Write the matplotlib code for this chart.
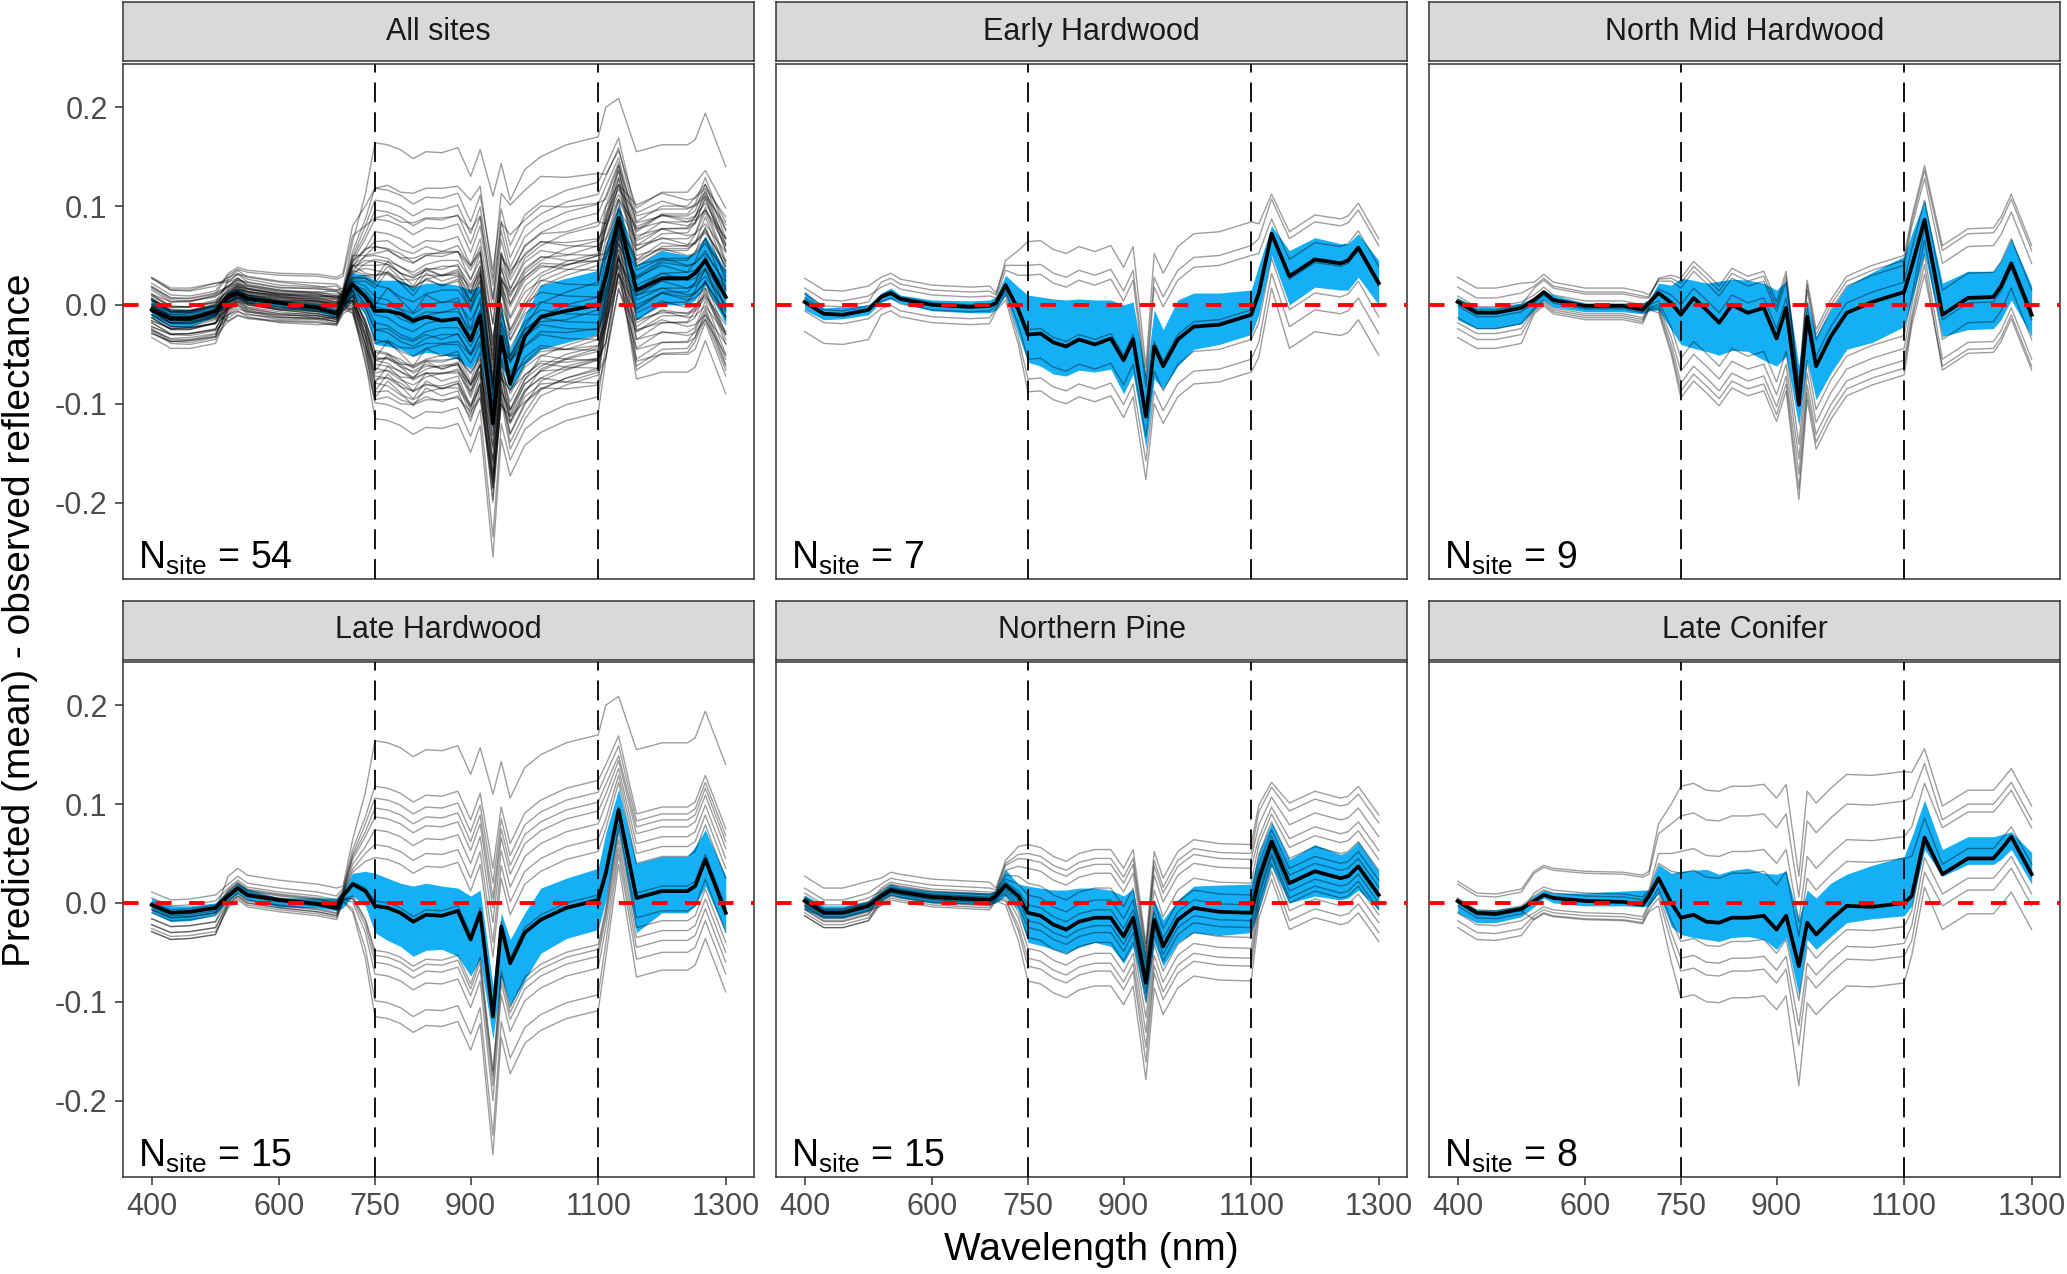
import numpy as np
import matplotlib
matplotlib.use("Agg")
import matplotlib.pyplot as plt

plt.rcParams['font.family'] = ['Liberation Sans', 'DejaVu Sans']
plt.rcParams['mathtext.fontset'] = 'custom'
plt.rcParams['mathtext.rm'] = 'Liberation Sans'
plt.rcParams['mathtext.it'] = 'Liberation Sans:italic'
plt.rcParams['axes.unicode_minus'] = False

wl = np.array([400, 430, 460, 500, 520, 535, 550, 600, 660, 690, 700, 715, 735,
               750, 770, 790, 810, 830, 855, 880, 900, 915, 935, 948, 962, 985,
               1010, 1050, 1100, 1112, 1132, 1160, 1200, 1240, 1252, 1268, 1300])

# spectral region of each wavelength -> index into a site's offsets
# 0 blue, 1 green/red, 2 700, 3 715, 4 735, 5 nir, 6 water dip, 7 1112, 8 1132, 9 swir
region = np.array([0, 0, 0, 0, 1, 1, 1, 1, 1, 1, 2, 3, 4,
                   5, 5, 5, 5, 5, 5, 5, 5, 5, 6, 5, 5, 5,
                   5, 5, 5, 7, 8, 9, 9, 9, 9, 9, 9])

panel_names = ["All sites", "Early Hardwood", "North Mid Hardwood",
               "Late Hardwood", "Northern Pine", "Late Conifer"]

# all values below in thousandths of reflectance
mean_all = [-5, -14, -14, -6, 8, 12, 6, 2, -3, -9, 4, 21, 8,
            -6, -6, -9, -16, -12, -16, -14, -36, -11, -120, -32, -80, -32,
            -12, -6, 0, 28, 88, 15, 27, 27, 32, 45, 8]
hi_all = [5, -5, -5, 0, 13, 17, 10, 5, 1, -4, 12, 33, 30,
          25, 25, 25, 18, 22, 22, 20, 15, 20, -80, 0, -45, -10,
          20, 27, 35, 60, 103, 40, 55, 50, 52, 70, 35]
lo_all = [-12, -22, -22, -12, 3, 7, 2, -2, -7, -13, -4, 8, -10,
          -40, -42, -45, -52, -48, -50, -55, -65, -50, -127, -60, -86, -60,
          -45, -38, -30, 0, 70, -15, 0, 0, 5, 20, -19]

mean_eh = [3, -9, -10, -5, 8, 12, 6, 0, -2, -1, 2, 20, -5,
           -30, -29, -38, -42, -35, -40, -34, -56, -35, -113, -42, -62, -35,
           -22, -20, -10, 12, 72, 29, 46, 42, 45, 58, 22]
hi_eh = [14, -3, -2, 0, 12, 17, 10, 5, 4, 5, 8, 30, 18,
         10, 8, 6, 5, 6, 5, 5, 0, 3, -72, -5, -25, 5,
         12, 12, 15, 40, 80, 55, 68, 62, 62, 72, 45]
lo_eh = [-5, -15, -14, -10, 3, 6, 2, -6, -8, -8, -5, 10, -30,
         -58, -62, -70, -72, -66, -68, -65, -90, -70, -145, -75, -85, -62,
         -45, -40, -30, -10, 50, 0, 18, 15, 15, 28, 0]

mean_nmh = [3, -8, -8, -3, 5, 13, 5, -1, -1, -5, 2, 12, 2,
            -10, 7, -5, -18, 0, -8, -3, -34, -3, -101, -12, -62, -32,
            -8, 3, 13, 39, 86, -10, 7, 8, 19, 42, -10]
hi_nmh = [7, -2, -2, 2, 8, 15, 10, 2, 2, 2, 5, 22, 20,
          27, 25, 22, 24, 26, 25, 22, 15, 24, -62, 5, -32, -5,
          19, 33, 49, 72, 106, 22, 34, 34, 45, 67, 19]
lo_nmh = [-15, -24, -24, -19, -5, 5, -2, -7, -7, -9, -6, -5, -25,
          -40, -44, -47, -51, -46, -47, -56, -62, -52, -123, -56, -96, -69,
          -45, -38, -22, 5, 52, -32, -25, -24, -15, 5, -32]

mean_lh = [-2, -10, -9, -5, 7, 15, 8, 3, -1, -5, 7, 19, 12,
           -3, -5, -10, -19, -12, -13, -8, -37, -10, -115, -24, -61, -30,
           -17, -5, 3, 30, 94, 5, 12, 12, 17, 44, -10]
hi_lh = [5, -3, -3, 0, 12, 20, 14, 5, 5, 5, 12, 30, 32,
         30, 25, 20, 17, 20, 17, 15, 7, 13, -84, -10, -37, -10,
         15, 25, 35, 71, 115, 40, 47, 47, 57, 74, 27]
lo_lh = [-10, -19, -18, -12, 2, 10, 3, -4, -5, -8, -5, 7, -3,
         -30, -38, -44, -54, -48, -47, -54, -74, -57, -138, -74, -104, -78,
         -51, -36, -27, 3, 74, -30, -10, -10, -3, 17, -30]

mean_np = [2, -10, -10, -3, 7, 13, 11, 6, 4, 3, 7, 18, 7,
           -10, -13, -22, -27, -19, -15, -15, -34, -15, -81, -17, -44, -17,
           -5, -9, -10, 24, 62, 20, 32, 25, 27, 37, 8]
hi_np = [8, -3, -3, 2, 12, 19, 16, 12, 11, 10, 13, 34, 19,
         17, 15, 13, 13, 15, 15, 13, 7, 14, -54, 3, -17, 3,
         17, 18, 19, 51, 81, 44, 59, 49, 52, 62, 32]
lo_np = [-7, -15, -15, -8, 2, 8, 5, 0, -1, -2, 0, 7, -7,
         -40, -43, -47, -51, -45, -40, -44, -61, -44, -101, -40, -64, -40,
         -30, -33, -30, -7, 37, 0, 7, 3, 5, 13, -7]

mean_lc = [2, -10, -11, -6, 2, 8, 5, 2, 1, -2, 7, 25, 0,
           -15, -12, -19, -20, -15, -15, -13, -27, -13, -64, -20, -32, -17,
           -3, -4, 0, 7, 66, 29, 45, 45, 54, 67, 29]
hi_lc = [3, -7, -7, -3, 7, 13, 10, 10, 12, 13, 13, 39, 30,
         32, 33, 34, 29, 33, 35, 30, 29, 32, -17, 13, 5, 20,
         29, 38, 47, 67, 104, 54, 67, 67, 69, 72, 51]
lo_lc = [-10, -20, -20, -14, -4, 5, 0, -3, -3, -4, -3, 10, -24,
         -32, -35, -37, -39, -35, -34, -37, -47, -35, -94, -37, -47, -34,
         -20, -16, -13, -3, 54, 27, 39, 39, 44, 54, 19]

# each site: offset from its group mean per region
# [blue, green, 700, 715, 735, nir, dip, 1112, 1132, swir]
sites_eh = [
    [8, 15, 8, 25, 60, 94, 50, 70, 40, 45],
    [24, 20, 10, 20, 45, 70, 40, 55, 35, 38],
    [14, 10, 5, 15, 35, 60, 30, 40, 15, 17],
    [-1, 2, 0, 2, 3, 5, 3, 2, -2, -3],
    [4, -5, -3, -6, -15, -25, -20, -30, -25, -34],
    [-9, -12, -6, -10, -28, -45, -45, -50, -40, -51],
    [-30, -18, -8, -15, -35, -58, -64, -65, -55, -73],
]
sites_nmh = [
    [3, 12, 5, 15, 28, 37, 20, 50, 55, 70],
    [15, 14, 6, 14, 25, 32, 18, 45, 50, 65],
    [25, 18, 8, 12, 22, 27, 15, 40, 42, 52],
    [6, 5, 2, 4, 8, 10, 8, 18, 20, 25],
    [-4, -3, -2, -8, -25, -44, -40, -30, -8, -5],
    [-16, -8, -4, -12, -35, -57, -55, -40, -20, -25],
    [-21, -10, -5, -15, -42, -69, -70, -50, -35, -45],
    [-27, -12, -6, -17, -48, -77, -85, -55, -45, -56],
    [-36, -14, -7, -20, -52, -84, -96, -60, -55, -52],
]
sites_lh = [
    [-3, 20, 10, 45, 100, 167, 225, 170, 115, 150],
    [13, 12, 8, 35, 75, 121, 150, 110, 75, 85],
    [7, 8, 6, 30, 68, 109, 135, 100, 65, 78],
    [-5, 5, 4, 28, 60, 99, 120, 90, 55, 72],
    [0, 6, 4, 25, 55, 90, 110, 80, 50, 65],
    [-14, 2, 3, 20, 45, 77, 95, 70, 42, 55],
    [3, 4, 3, 15, 38, 62, 75, 55, 35, 45],
    [-8, 0, 2, 12, 30, 49, 60, 45, 28, 35],
    [-5, -2, 0, 2, 3, 5, 5, 5, 3, 5],
    [-20, -6, -3, -12, -28, -45, -55, -35, -15, -20],
    [-27, -8, -4, -14, -30, -50, -60, -40, -22, -30],
    [-14, -5, -3, -15, -35, -57, -70, -45, -30, -40],
    [-20, -8, -4, -18, -42, -69, -85, -55, -38, -50],
    [-27, -10, -5, -25, -58, -96, -120, -70, -45, -62],
    [-24, -12, -6, -28, -68, -112, -140, -85, -55, -80],
]
sites_np = [
    [25, 18, 8, 25, 50, 69, 40, 75, 60, 81],
    [13, 12, 6, 22, 42, 60, 35, 68, 55, 73],
    [3, 8, 4, 20, 38, 54, 30, 55, 45, 59],
    [-2, 6, 3, 15, 30, 45, 25, 42, 35, 45],
    [8, 5, 3, 10, 20, 30, 18, 35, 28, 36],
    [-9, 3, 2, 6, 12, 18, 10, 25, 20, 25],
    [4, 2, 1, 3, 5, 8, 5, 15, 12, 15],
    [-4, 0, 0, 0, 0, 0, 0, 8, 6, 8],
    [2, -1, 0, -3, -5, -8, -10, 0, 0, 0],
    [-6, -2, -1, -5, -10, -15, -20, -8, -6, -8],
    [-15, -3, -1, -8, -16, -25, -35, -14, -12, -15],
    [-8, -5, -2, -10, -22, -36, -50, -18, -15, -20],
    [-12, -6, -3, -14, -30, -46, -65, -25, -22, -28],
    [-15, -8, -4, -16, -35, -54, -80, -32, -30, -38],
    [-5, -10, -5, -20, -45, -69, -98, -40, -38, -47],
]
sites_lc = [
    [20, 30, 25, 55, 100, 133, 91, 125, 90, 69],
    [17, 28, 22, 45, 80, 103, 70, 100, 75, 55],
    [-5, 8, 6, 25, 50, 67, 45, 70, 55, 47],
    [3, 5, 4, 15, 32, 45, 30, 40, 20, 10],
    [-12, -12, -8, -10, -18, -24, -35, -15, -5, 0],
    [-20, -15, -10, -15, -30, -41, -60, -30, -20, -20],
    [-27, -18, -14, -20, -40, -54, -80, -45, -35, -32],
    [-2, -19, -16, -28, -60, -81, -121, -60, -50, -56],
]

x_ticks = [400, 600, 750, 900, 1100, 1300]
y_ticks = [-0.2, -0.1, 0.0, 0.1, 0.2]
y_ticklabels = ["-0.2", "-0.1", "0.0", "0.1", "0.2"]
cutoffs = [750, 1100]


def site_curves(mean, sites):
    m = np.array(mean)
    return [(m + np.array(s)[region]) / 1000 for s in sites]


groups = [(mean_eh, hi_eh, lo_eh, sites_eh),
          (mean_nmh, hi_nmh, lo_nmh, sites_nmh),
          (mean_lh, hi_lh, lo_lh, sites_lh),
          (mean_np, hi_np, lo_np, sites_np),
          (mean_lc, hi_lc, lo_lc, sites_lc)]

panels = []
all_lines = []
for g in groups:
    all_lines += site_curves(g[0], g[3])
panels.append((mean_all, hi_all, lo_all, all_lines))
for g in groups:
    panels.append((g[0], g[1], g[2], site_curves(g[0], g[3])))

fig = plt.figure(figsize=(20.67, 12.74), dpi=100)
lefts = [0.0595, 0.3754, 0.6913]
bottoms = [0.5458, 0.0764]
strip_bottoms = [0.9520, 0.4821]
W, H, SH = 0.3055, 0.4037, 0.0465
edge = '#333333'

for k, name in enumerate(panel_names):
    r, c = divmod(k, 3)
    mean, hi, lo, lines = panels[k]
    ax = fig.add_axes([lefts[c], bottoms[r], W, H])

    ax.fill_between(wl, np.array(lo) / 1000, np.array(hi) / 1000,
                    color='#14aff5', lw=0, zorder=1)
    for y in lines:
        ax.plot(wl, y, color='black', alpha=0.38, lw=1.0, zorder=2)
    ax.plot(wl, np.array(mean) / 1000, color='black', lw=2.7, zorder=3)
    for v in cutoffs:
        ax.axvline(v, color='black', lw=1.3, dashes=(11, 5.5), zorder=4)
    ax.axhline(0, color='red', lw=2.8, dashes=(4, 4.5), zorder=5)

    ax.set_xlim(355, 1345)
    ax.set_ylim(-0.277, 0.2434)
    ax.set_xticks(x_ticks)
    ax.set_yticks(y_ticks)
    ax.set_yticklabels(y_ticklabels)
    ax.tick_params(length=6, width=1.1, color=edge, labelsize=22,
                   labelcolor='#4d4d4d', pad=5)
    if c > 0:
        ax.tick_params(axis='y', left=False, labelleft=False)
    if r == 0:
        ax.tick_params(axis='x', bottom=False, labelbottom=False)
    for sp in ax.spines.values():
        sp.set_color(edge)
        sp.set_linewidth(1.1)

    ax.text(0.024, 0.019, r'N$_{\mathrm{site}}$ = %d' % len(lines),
            transform=ax.transAxes, fontsize=27, ha='left', va='baseline')

    st = fig.add_axes([lefts[c], strip_bottoms[r], W, SH])
    st.set_facecolor('#d9d9d9')
    st.set_xticks([])
    st.set_yticks([])
    for sp in st.spines.values():
        sp.set_color(edge)
        sp.set_linewidth(1.1)
    st.text(0.5, 0.5, name, ha='center', va='center', fontsize=22,
            color='#1a1a1a', transform=st.transAxes)

fig.text(0.0097, 0.5134, 'Predicted (mean) - observed reflectance',
         rotation=90, ha='center', va='center', fontsize=28)
fig.text(0.5282, 0.0192, 'Wavelength (nm)', ha='center', va='center',
         fontsize=28)

fig.savefig('out.png', dpi=100)
